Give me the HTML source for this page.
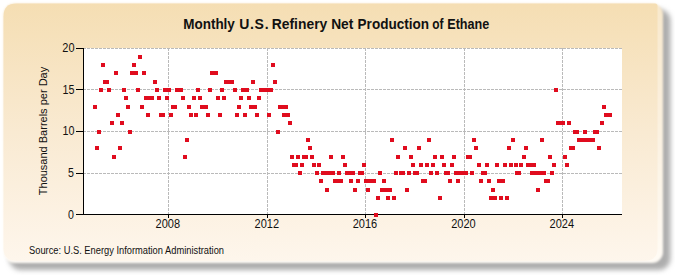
<!DOCTYPE html>
<html><head><meta charset="utf-8"><style>
html,body{margin:0;padding:0;background:#fff;width:675px;height:275px;overflow:hidden}
svg{display:block}
text{font-family:"Liberation Sans",sans-serif}
</style></head><body>
<svg width="675" height="275" viewBox="0 0 675 275">
<defs>
<linearGradient id="bg" x1="0" y1="0" x2="0" y2="1">
<stop offset="0" stop-color="#f5deb3"/>
<stop offset="0.5" stop-color="#f9ead2"/>
<stop offset="1" stop-color="#fef6ec"/>
</linearGradient>
<linearGradient id="bg2" x1="0" y1="0" x2="0" y2="1">
<stop offset="0" stop-color="#f8e8cc"/>
<stop offset="1" stop-color="#fffbf5"/>
</linearGradient>
<filter id="sh" x="-5%" y="-5%" width="115%" height="120%"><feGaussianBlur stdDeviation="2.6"/></filter>
<filter id="soft" x="-2%" y="-2%" width="104%" height="104%"><feGaussianBlur stdDeviation="0.6"/></filter>
<filter id="soft2" x="-2%" y="-2%" width="104%" height="104%"><feGaussianBlur stdDeviation="1.1"/></filter>
</defs>
<rect x="9" y="9" width="661.5" height="261" rx="12" ry="12" fill="#adadad" filter="url(#sh)"/>
<rect x="3.5" y="3.5" width="659.5" height="259.5" rx="11" ry="11" fill="url(#bg2)" filter="url(#soft2)"/>
<path d="M16.5,3.5 H655 Q657.5,3.5 657.5,6 V248 Q657.5,261 644.5,261 H16.5 Q3.5,261 3.5,248 V16.5 Q3.5,3.5 16.5,3.5 Z" fill="url(#bg)" filter="url(#soft)"/>
<rect x="84" y="48" width="538" height="166" fill="#fff"/>
<g stroke="#bababa" stroke-width="1" stroke-dasharray="3,1" stroke-dashoffset="1" shape-rendering="crispEdges">
<line x1="84" y1="48.5" x2="622" y2="48.5"/>
<line x1="84" y1="89.5" x2="622" y2="89.5"/>
<line x1="84" y1="131.5" x2="622" y2="131.5"/>
<line x1="84" y1="173.5" x2="622" y2="173.5"/>
</g>
<g stroke="#bababa" stroke-width="1" stroke-dasharray="3,1" shape-rendering="crispEdges">
<line x1="168.5" y1="48" x2="168.5" y2="214"/>
<line x1="267.5" y1="48" x2="267.5" y2="214"/>
<line x1="365.5" y1="48" x2="365.5" y2="214"/>
<line x1="464.5" y1="48" x2="464.5" y2="214"/>
<line x1="562.5" y1="48" x2="562.5" y2="214"/>
</g>
<g stroke="#000" stroke-width="1" shape-rendering="crispEdges">
<line x1="83.5" y1="48" x2="83.5" y2="215"/>
<line x1="83" y1="214.5" x2="622" y2="214.5"/>
<line x1="76" y1="48.5" x2="83" y2="48.5"/>
<line x1="76" y1="89.5" x2="83" y2="89.5"/>
<line x1="76" y1="131.5" x2="83" y2="131.5"/>
<line x1="76" y1="173.5" x2="83" y2="173.5"/>
<line x1="76" y1="214.5" x2="83" y2="214.5"/>
<line x1="168.5" y1="215" x2="168.5" y2="218"/>
<line x1="267.5" y1="215" x2="267.5" y2="218"/>
<line x1="365.5" y1="215" x2="365.5" y2="218"/>
<line x1="464.5" y1="215" x2="464.5" y2="218"/>
<line x1="562.5" y1="215" x2="562.5" y2="218"/>
</g>
<g fill="#e00c1e" shape-rendering="crispEdges">
<rect x="93" y="105" width="4" height="4"/><rect x="95" y="146" width="4" height="4"/><rect x="97" y="130" width="4" height="4"/><rect x="99" y="88" width="4" height="4"/><rect x="101" y="63" width="4" height="4"/><rect x="103" y="80" width="4" height="4"/><rect x="105" y="80" width="4" height="4"/><rect x="107" y="88" width="4" height="4"/><rect x="110" y="121" width="4" height="4"/><rect x="112" y="155" width="4" height="4"/><rect x="114" y="71" width="4" height="4"/><rect x="116" y="113" width="4" height="4"/><rect x="118" y="146" width="4" height="4"/><rect x="120" y="121" width="4" height="4"/><rect x="122" y="88" width="4" height="4"/><rect x="124" y="96" width="4" height="4"/><rect x="126" y="105" width="4" height="4"/><rect x="128" y="130" width="4" height="4"/><rect x="130" y="71" width="4" height="4"/><rect x="132" y="63" width="4" height="4"/><rect x="134" y="71" width="4" height="4"/><rect x="136" y="88" width="4" height="4"/><rect x="138" y="55" width="4" height="4"/><rect x="140" y="105" width="4" height="4"/><rect x="142" y="71" width="4" height="4"/><rect x="144" y="96" width="4" height="4"/><rect x="146" y="113" width="4" height="4"/><rect x="148" y="96" width="4" height="4"/><rect x="150" y="96" width="4" height="4"/><rect x="153" y="80" width="4" height="4"/><rect x="155" y="88" width="4" height="4"/><rect x="157" y="96" width="4" height="4"/><rect x="159" y="113" width="4" height="4"/><rect x="161" y="113" width="4" height="4"/><rect x="163" y="88" width="4" height="4"/><rect x="165" y="96" width="4" height="4"/><rect x="167" y="88" width="4" height="4"/><rect x="169" y="113" width="4" height="4"/><rect x="171" y="105" width="4" height="4"/><rect x="173" y="105" width="4" height="4"/><rect x="175" y="88" width="4" height="4"/><rect x="177" y="88" width="4" height="4"/><rect x="179" y="88" width="4" height="4"/><rect x="181" y="96" width="4" height="4"/><rect x="183" y="155" width="4" height="4"/><rect x="185" y="138" width="4" height="4"/><rect x="187" y="105" width="4" height="4"/><rect x="189" y="113" width="4" height="4"/><rect x="192" y="96" width="4" height="4"/><rect x="194" y="113" width="4" height="4"/><rect x="196" y="88" width="4" height="4"/><rect x="198" y="96" width="4" height="4"/><rect x="200" y="105" width="4" height="4"/><rect x="202" y="105" width="4" height="4"/><rect x="204" y="105" width="4" height="4"/><rect x="206" y="113" width="4" height="4"/><rect x="208" y="88" width="4" height="4"/><rect x="210" y="71" width="4" height="4"/><rect x="212" y="71" width="4" height="4"/><rect x="214" y="71" width="4" height="4"/><rect x="216" y="96" width="4" height="4"/><rect x="218" y="113" width="4" height="4"/><rect x="220" y="88" width="4" height="4"/><rect x="222" y="96" width="4" height="4"/><rect x="224" y="80" width="4" height="4"/><rect x="226" y="80" width="4" height="4"/><rect x="228" y="80" width="4" height="4"/><rect x="230" y="80" width="4" height="4"/><rect x="233" y="88" width="4" height="4"/><rect x="235" y="113" width="4" height="4"/><rect x="237" y="105" width="4" height="4"/><rect x="239" y="96" width="4" height="4"/><rect x="241" y="88" width="4" height="4"/><rect x="243" y="113" width="4" height="4"/><rect x="245" y="88" width="4" height="4"/><rect x="247" y="96" width="4" height="4"/><rect x="249" y="105" width="4" height="4"/><rect x="251" y="80" width="4" height="4"/><rect x="253" y="105" width="4" height="4"/><rect x="255" y="113" width="4" height="4"/><rect x="257" y="96" width="4" height="4"/><rect x="259" y="88" width="4" height="4"/><rect x="261" y="88" width="4" height="4"/><rect x="263" y="88" width="4" height="4"/><rect x="265" y="88" width="4" height="4"/><rect x="267" y="113" width="4" height="4"/><rect x="269" y="88" width="4" height="4"/><rect x="271" y="63" width="4" height="4"/><rect x="273" y="80" width="4" height="4"/><rect x="276" y="130" width="4" height="4"/><rect x="278" y="105" width="4" height="4"/><rect x="280" y="105" width="4" height="4"/><rect x="282" y="113" width="4" height="4"/><rect x="284" y="105" width="4" height="4"/><rect x="286" y="113" width="4" height="4"/><rect x="288" y="121" width="4" height="4"/><rect x="290" y="155" width="4" height="4"/><rect x="292" y="163" width="4" height="4"/><rect x="294" y="163" width="4" height="4"/><rect x="296" y="155" width="4" height="4"/><rect x="298" y="171" width="4" height="4"/><rect x="300" y="163" width="4" height="4"/><rect x="302" y="155" width="4" height="4"/><rect x="304" y="155" width="4" height="4"/><rect x="306" y="138" width="4" height="4"/><rect x="308" y="146" width="4" height="4"/><rect x="310" y="155" width="4" height="4"/><rect x="312" y="163" width="4" height="4"/><rect x="315" y="171" width="4" height="4"/><rect x="317" y="163" width="4" height="4"/><rect x="319" y="179" width="4" height="4"/><rect x="321" y="171" width="4" height="4"/><rect x="323" y="171" width="4" height="4"/><rect x="325" y="188" width="4" height="4"/><rect x="327" y="171" width="4" height="4"/><rect x="329" y="155" width="4" height="4"/><rect x="331" y="171" width="4" height="4"/><rect x="333" y="179" width="4" height="4"/><rect x="335" y="179" width="4" height="4"/><rect x="337" y="171" width="4" height="4"/><rect x="339" y="179" width="4" height="4"/><rect x="341" y="155" width="4" height="4"/><rect x="343" y="163" width="4" height="4"/><rect x="345" y="171" width="4" height="4"/><rect x="347" y="171" width="4" height="4"/><rect x="349" y="179" width="4" height="4"/><rect x="351" y="171" width="4" height="4"/><rect x="353" y="188" width="4" height="4"/><rect x="356" y="179" width="4" height="4"/><rect x="358" y="171" width="4" height="4"/><rect x="360" y="171" width="4" height="4"/><rect x="362" y="163" width="4" height="4"/><rect x="364" y="179" width="4" height="4"/><rect x="366" y="188" width="4" height="4"/><rect x="368" y="179" width="4" height="4"/><rect x="370" y="179" width="4" height="4"/><rect x="372" y="179" width="4" height="4"/><rect x="374" y="213" width="4" height="4"/><rect x="376" y="196" width="4" height="4"/><rect x="378" y="171" width="4" height="4"/><rect x="380" y="188" width="4" height="4"/><rect x="382" y="179" width="4" height="4"/><rect x="384" y="188" width="4" height="4"/><rect x="386" y="196" width="4" height="4"/><rect x="388" y="188" width="4" height="4"/><rect x="390" y="138" width="4" height="4"/><rect x="392" y="196" width="4" height="4"/><rect x="394" y="171" width="4" height="4"/><rect x="396" y="155" width="4" height="4"/><rect x="399" y="171" width="4" height="4"/><rect x="401" y="171" width="4" height="4"/><rect x="403" y="146" width="4" height="4"/><rect x="405" y="188" width="4" height="4"/><rect x="407" y="171" width="4" height="4"/><rect x="409" y="155" width="4" height="4"/><rect x="411" y="163" width="4" height="4"/><rect x="413" y="171" width="4" height="4"/><rect x="415" y="171" width="4" height="4"/><rect x="417" y="146" width="4" height="4"/><rect x="419" y="163" width="4" height="4"/><rect x="421" y="179" width="4" height="4"/><rect x="423" y="179" width="4" height="4"/><rect x="425" y="163" width="4" height="4"/><rect x="427" y="138" width="4" height="4"/><rect x="429" y="171" width="4" height="4"/><rect x="431" y="163" width="4" height="4"/><rect x="433" y="155" width="4" height="4"/><rect x="435" y="171" width="4" height="4"/><rect x="438" y="196" width="4" height="4"/><rect x="440" y="155" width="4" height="4"/><rect x="442" y="163" width="4" height="4"/><rect x="444" y="171" width="4" height="4"/><rect x="446" y="171" width="4" height="4"/><rect x="448" y="179" width="4" height="4"/><rect x="450" y="163" width="4" height="4"/><rect x="452" y="155" width="4" height="4"/><rect x="454" y="171" width="4" height="4"/><rect x="456" y="179" width="4" height="4"/><rect x="458" y="171" width="4" height="4"/><rect x="460" y="171" width="4" height="4"/><rect x="462" y="171" width="4" height="4"/><rect x="464" y="171" width="4" height="4"/><rect x="466" y="155" width="4" height="4"/><rect x="468" y="155" width="4" height="4"/><rect x="470" y="171" width="4" height="4"/><rect x="472" y="138" width="4" height="4"/><rect x="474" y="146" width="4" height="4"/><rect x="477" y="163" width="4" height="4"/><rect x="479" y="179" width="4" height="4"/><rect x="481" y="171" width="4" height="4"/><rect x="483" y="171" width="4" height="4"/><rect x="485" y="163" width="4" height="4"/><rect x="487" y="179" width="4" height="4"/><rect x="489" y="196" width="4" height="4"/><rect x="491" y="188" width="4" height="4"/><rect x="493" y="196" width="4" height="4"/><rect x="495" y="163" width="4" height="4"/><rect x="497" y="179" width="4" height="4"/><rect x="499" y="196" width="4" height="4"/><rect x="501" y="179" width="4" height="4"/><rect x="503" y="163" width="4" height="4"/><rect x="505" y="196" width="4" height="4"/><rect x="507" y="146" width="4" height="4"/><rect x="509" y="163" width="4" height="4"/><rect x="511" y="138" width="4" height="4"/><rect x="514" y="163" width="4" height="4"/><rect x="515" y="171" width="4" height="4"/><rect x="517" y="171" width="4" height="4"/><rect x="519" y="163" width="4" height="4"/><rect x="522" y="155" width="4" height="4"/><rect x="524" y="146" width="4" height="4"/><rect x="526" y="163" width="4" height="4"/><rect x="528" y="163" width="4" height="4"/><rect x="530" y="171" width="4" height="4"/><rect x="532" y="163" width="4" height="4"/><rect x="534" y="171" width="4" height="4"/><rect x="536" y="188" width="4" height="4"/><rect x="538" y="171" width="4" height="4"/><rect x="540" y="138" width="4" height="4"/><rect x="542" y="171" width="4" height="4"/><rect x="544" y="179" width="4" height="4"/><rect x="546" y="179" width="4" height="4"/><rect x="548" y="155" width="4" height="4"/><rect x="550" y="171" width="4" height="4"/><rect x="552" y="163" width="4" height="4"/><rect x="554" y="88" width="4" height="4"/><rect x="556" y="121" width="4" height="4"/><rect x="558" y="121" width="4" height="4"/><rect x="561" y="121" width="4" height="4"/><rect x="563" y="155" width="4" height="4"/><rect x="565" y="163" width="4" height="4"/><rect x="567" y="121" width="4" height="4"/><rect x="569" y="146" width="4" height="4"/><rect x="571" y="146" width="4" height="4"/><rect x="573" y="130" width="4" height="4"/><rect x="575" y="130" width="4" height="4"/><rect x="577" y="138" width="4" height="4"/><rect x="579" y="138" width="4" height="4"/><rect x="581" y="138" width="4" height="4"/><rect x="583" y="130" width="4" height="4"/><rect x="585" y="138" width="4" height="4"/><rect x="587" y="138" width="4" height="4"/><rect x="589" y="138" width="4" height="4"/><rect x="591" y="138" width="4" height="4"/><rect x="593" y="130" width="4" height="4"/><rect x="595" y="130" width="4" height="4"/><rect x="597" y="146" width="4" height="4"/><rect x="600" y="121" width="4" height="4"/><rect x="602" y="105" width="4" height="4"/><rect x="604" y="113" width="4" height="4"/><rect x="606" y="113" width="4" height="4"/><rect x="608" y="113" width="4" height="4"/>
</g>
<g font-size="12.3" fill="#111" text-anchor="end" lengthAdjust="spacingAndGlyphs">
<text x="74.5" y="51.7" textLength="12.2" lengthAdjust="spacingAndGlyphs">20</text>
<text x="74.5" y="93.6" textLength="12.0" lengthAdjust="spacingAndGlyphs">15</text>
<text x="74.5" y="134.9" textLength="12.0" lengthAdjust="spacingAndGlyphs">10</text>
<text x="74" y="176.8" textLength="5.9" lengthAdjust="spacingAndGlyphs">5</text>
<text x="74" y="218.6" textLength="5.9" lengthAdjust="spacingAndGlyphs">0</text>
</g>
<g font-size="12.3" fill="#111" text-anchor="middle">
<text x="167.8" y="227.8" textLength="24.5" lengthAdjust="spacingAndGlyphs">2008</text>
<text x="266.8" y="227.8" textLength="24.5" lengthAdjust="spacingAndGlyphs">2012</text>
<text x="364.9" y="227.8" textLength="24.5" lengthAdjust="spacingAndGlyphs">2016</text>
<text x="463.5" y="227.8" textLength="24.5" lengthAdjust="spacingAndGlyphs">2020</text>
<text x="561.8" y="227.8" textLength="24.5" lengthAdjust="spacingAndGlyphs">2024</text>
</g>
<text x="47" y="131" font-size="11" fill="#111" text-anchor="middle" transform="rotate(-90 47 131)">Thousand Barrels per Day</text>
<g font-size="14" font-weight="bold" fill="#111">
<text x="183.19" y="28.8" textLength="51.68" lengthAdjust="spacingAndGlyphs">Monthly</text>
<text x="239.19" y="28.8" textLength="29.34" lengthAdjust="spacing">U.S.</text>
<text x="271.77" y="28.8" textLength="55.51" lengthAdjust="spacingAndGlyphs">Refinery</text>
<text x="331.18" y="28.8" textLength="22.19" lengthAdjust="spacingAndGlyphs">Net</text>
<text x="357.59" y="28.8" textLength="71.45" lengthAdjust="spacingAndGlyphs">Production</text>
<text x="432.23" y="28.8" textLength="11.25" lengthAdjust="spacingAndGlyphs">of</text>
<text x="447.25" y="28.8" textLength="42.08" lengthAdjust="spacingAndGlyphs">Ethane</text>
</g>
<text x="29" y="253.7" font-size="10" fill="#111" textLength="195" lengthAdjust="spacingAndGlyphs">Source: U.S. Energy Information Administration</text>
</svg>
</body></html>
